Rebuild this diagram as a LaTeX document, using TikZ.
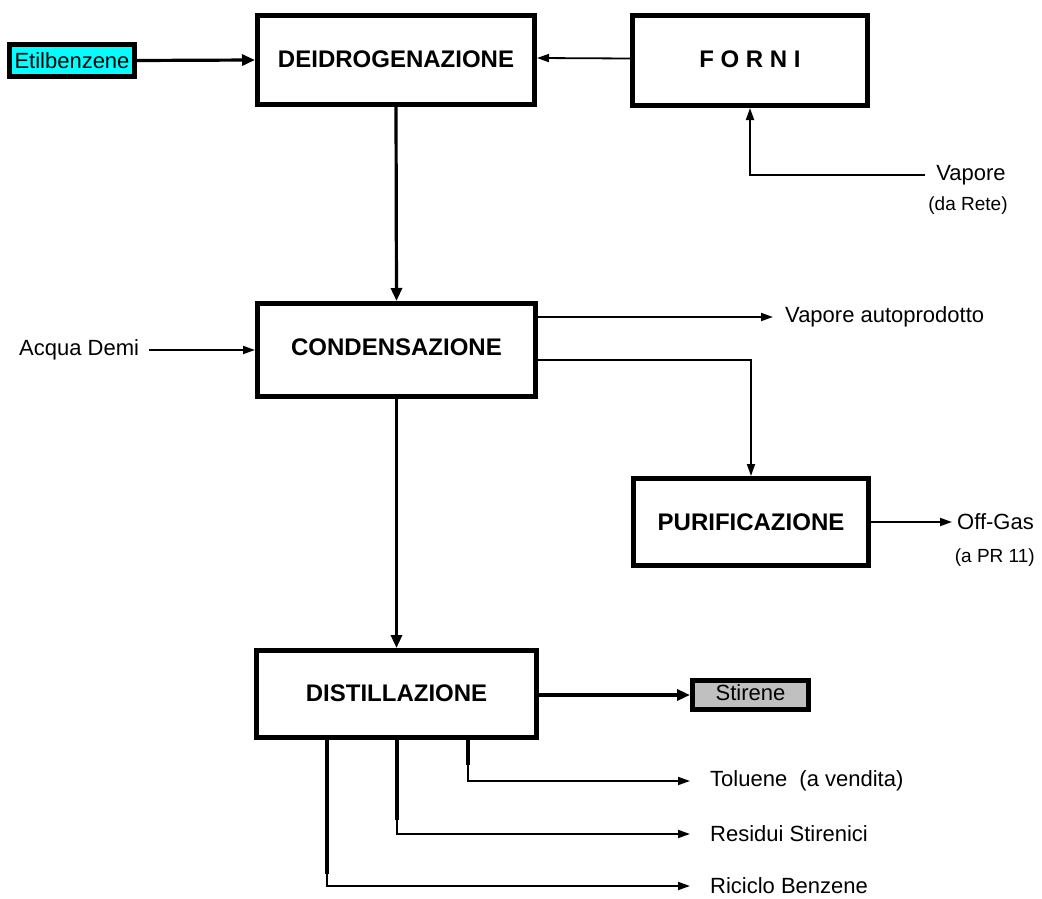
\documentclass[tikz,border=0pt]{standalone}
\usepackage{fontspec}
\setmainfont{Liberation Sans}
\usetikzlibrary{arrows.meta,calc}
\definecolor{feedcyan}{HTML}{00FFFF}
\definecolor{prodgray}{HTML}{C0C0C0}
\begin{document}
\begin{tikzpicture}[x=1pt,y=-1pt,
  unit/.style={draw,line width=5pt,inner sep=0pt,font=\fontsize{24}{28}\selectfont\bfseries},
  tag/.style={draw,line width=5pt,inner sep=0pt,font=\fontsize{22}{26}\selectfont},
  lbl/.style={inner sep=0pt,font=\fontsize{22}{26}\selectfont},
  note/.style={inner sep=0pt,font=\fontsize{19}{22}\selectfont},
  mainflow/.style={line width=3.2pt,-{Triangle[length=13pt,width=11pt]}},
  sideflow/.style={line width=1.8pt,-{Triangle[length=12pt,width=8pt]}},
  stub/.style={line width=3.2pt}]
\useasboundingbox (0,0) rectangle (1042,899);

% process units
\node[unit,minimum width=277pt,minimum height=89pt] (dei) at (396,60) {\raisebox{2pt}{DEIDROGENAZIONE}};
\node[unit,minimum width=235pt,minimum height=90pt] (forni) at (750,60.5) {\raisebox{2pt}{F O R N I}};
\node[unit,minimum width=278pt,minimum height=93pt] (cond) at (396.5,350) {\raisebox{5pt}{CONDENSAZIONE}};
\node[unit,minimum width=235pt,minimum height=87pt] (puri) at (751,522) {PURIFICAZIONE};
\node[unit,minimum width=280pt,minimum height=87pt] (dist) at (396.5,694) {\raisebox{2pt}{DISTILLAZIONE}};

% feed and product tags
\node[tag,fill=feedcyan,minimum width=125pt,minimum height=32pt] (etil) at (72,60.5) {Etilbenzene};
\node[tag,fill=prodgray,minimum width=116pt,minimum height=29pt] (stir) at (750.5,695) {\raisebox{4pt}{Stirene}};

% stream labels
\node[lbl] (vap) at (971,175) {Vapore};
\node[note] (rete) at (968,206) {(da Rete)};
\node[lbl,anchor=west] (acq) at (19,350) {Acqua Demi};
\node[lbl,anchor=west] (autop) at (785,317) {Vapore autoprodotto};
\node[lbl,anchor=west] (offg) at (957,522) {Off-Gas};
\node[note,anchor=east] (apr) at (1035,558) {(a PR 11)};
\node[lbl,anchor=west] (tol) at (710,781) {Toluene\ \ (a vendita)};
\node[lbl,anchor=west] (res) at (710,834) {Residui Stirenici};
\node[lbl,anchor=west] (ric) at (710,886) {Riciclo Benzene};

% main flow
\draw[mainflow] (etil.east) -- (dei.west);
\draw[mainflow] (dei.south) -- (cond.north);
\draw[mainflow] (cond.south) -- (dist.north);
\draw[mainflow] (dist.east |- stir.west) -- (stir.west);

% side streams
\draw[sideflow] ($(forni.west)+(0,-2)$) -- ($(dei.east)+(0,-2)$);
\draw[sideflow] ([xshift=-11pt]vap.west) -| (forni.south);
\draw[sideflow] ([xshift=10pt]acq.east) -- (cond.west);
\draw[sideflow] (cond.east |- autop.west) -- ([xshift=-12pt]autop.west);
\draw[sideflow] ($(cond.east)+(0,10)$) -| (puri.north);
\draw[sideflow] (puri.east) -- ([xshift=-5pt]offg.west);

% distillation cuts
\draw[sideflow] ($(dist.south)+(71.5,0)$) |- ([xshift=-20pt]tol.west);
\draw[sideflow] ($(dist.south)+(0.5,0)$) |- ([xshift=-20pt]res.west);
\draw[sideflow] ($(dist.south)+(-69.5,0)$) |- ([xshift=-20pt]ric.west);
\draw[stub] ($(dist.south)+(71.5,0)$) -- ++(0,25);
\draw[stub] ($(dist.south)+(0.5,0)$) -- ++(0,80);
\draw[stub] ($(dist.south)+(-69.5,0)$) -- ++(0,134);
\end{tikzpicture}
\end{document}
